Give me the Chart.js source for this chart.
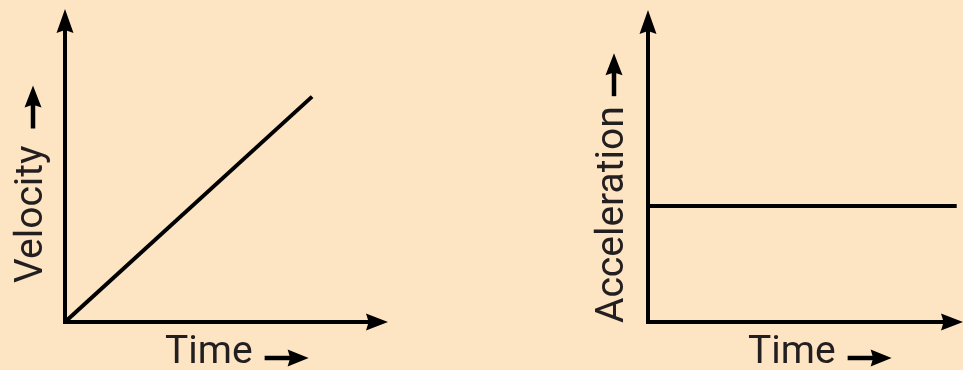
<!DOCTYPE html>
<html>
<head>
<meta charset="utf-8">
<script src="https://cdn.jsdelivr.net/npm/chart.js@4.4.1/dist/chart.umd.min.js"></script>
<style>
  html, body { margin: 0; padding: 0; background: #fde5c4; }
  body { width: 963px; height: 370px; position: relative; overflow: hidden; }
  .panel { position: absolute; top: 0; height: 370px; }
  #left-panel { left: 0; width: 480px; }
  #right-panel { left: 480px; width: 483px; }
</style>
</head>
<body>
<div class="panel" id="left-panel"><canvas id="velocityChart"></canvas></div>
<div class="panel" id="right-panel"><canvas id="accelChart"></canvas></div>
<script>
// Axis range (arbitrary units, arrow tip = 10)
const axisMin = 0;
const axisMax = 10;

// Velocity vs time: straight line through origin
const velocityTime = [0, 7.65];
const velocityValues = [0, 7.2];

// Acceleration vs time: constant
const accelTime = [0, 9.8];
const accelValues = [3.72, 3.72];

const xTitle = 'Time';
const velocityTitle = 'Velocity';
const accelTitle = 'Acceleration';

const inkColor = '#000000';
const textColor = '#231f20';
const labelFont = '39px Roboto';

function drawArrowHead(ctx, x, y, dir, len, half) {
  // dir: 'up' or 'right'
  ctx.beginPath();
  if (dir === 'up') {
    ctx.moveTo(x, y);
    ctx.lineTo(x - half, y + len);
    ctx.lineTo(x, y + len * 0.88);
    ctx.lineTo(x + half, y + len);
  } else {
    ctx.moveTo(x, y);
    ctx.lineTo(x - len, y - half);
    ctx.lineTo(x - len * 0.88, y);
    ctx.lineTo(x - len, y + half);
  }
  ctx.closePath();
  ctx.fill();
}

// draws axes with arrowheads plus the axis labels
const arrowAxes = {
  id: 'arrowAxes',
  afterDatasetsDraw(chart, args, opts) {
    const { ctx, chartArea: a } = chart;
    ctx.save();
    ctx.strokeStyle = inkColor;
    ctx.fillStyle = inkColor;
    ctx.lineWidth = 4;
    ctx.lineCap = 'butt';

    // y axis
    ctx.beginPath();
    ctx.moveTo(a.left, a.bottom + 2);
    ctx.lineTo(a.left, a.top + 18);
    ctx.stroke();
    drawArrowHead(ctx, a.left, a.top, 'up', 24, 8.5);

    // x axis
    ctx.beginPath();
    ctx.moveTo(a.left - 2, a.bottom);
    ctx.lineTo(a.right - 16, a.bottom);
    ctx.stroke();
    drawArrowHead(ctx, a.right, a.bottom, 'right', 22, 8.5);

    // x label + arrow
    ctx.font = labelFont;
    ctx.fillStyle = textColor;
    ctx.textBaseline = 'alphabetic';
    ctx.textAlign = 'left';
    const tx = a.left + 100;
    const ty = a.bottom + 41;
    ctx.fillText(xTitle, tx, ty);
    const tw = ctx.measureText(xTitle).width;
    ctx.fillStyle = inkColor;
    ctx.lineWidth = 4.5;
    const ax0 = tx + tw + 12;
    const ax1 = ax0 + 44;
    ctx.beginPath();
    ctx.moveTo(ax0, ty - 5);
    ctx.lineTo(ax1 - 16, ty - 5);
    ctx.stroke();
    drawArrowHead(ctx, ax1, ty - 5, 'right', 21, 8.5);

    // y label + arrow (rotated)
    ctx.save();
    ctx.translate(a.left - opts.yBase, a.bottom - opts.yStart);
    ctx.rotate(-Math.PI / 2);
    ctx.fillStyle = textColor;
    ctx.fillText(opts.yTitle, 0, 0);
    const yw = ctx.measureText(opts.yTitle).width;
    ctx.restore();

    const yx = a.left - opts.yBase - 9;
    const y0 = a.bottom - opts.yStart - yw - opts.yGap;
    const y1 = y0 - 43;
    ctx.fillStyle = inkColor;
    ctx.beginPath();
    ctx.moveTo(yx, y0);
    ctx.lineTo(yx, y1 + 16);
    ctx.stroke();
    drawArrowHead(ctx, yx, y1, 'up', 22, 8.5);

    ctx.restore();
  }
};

function makeChart(canvasId, times, values, padding, yOpts) {
  const ctx = document.getElementById(canvasId).getContext('2d');
  return new Chart(ctx, {
    type: 'line',
    data: {
      datasets: [{
        data: times.map((t, i) => ({ x: t, y: values[i] })),
        borderColor: inkColor,
        borderWidth: 4,
        pointRadius: 0,
        fill: false,
        tension: 0
      }]
    },
    options: {
      responsive: true,
      maintainAspectRatio: false,
      animation: false,
      layout: { padding },
      plugins: {
        legend: { display: false },
        tooltip: { enabled: false },
        arrowAxes: yOpts
      },
      scales: {
        x: { type: 'linear', min: axisMin, max: axisMax, display: false },
        y: { type: 'linear', min: axisMin, max: axisMax, display: false }
      }
    },
    plugins: [arrowAxes]
  });
}

makeChart('velocityChart', velocityTime, velocityValues,
  { left: 65, top: 9, right: 92, bottom: 48 },
  { yTitle: velocityTitle, yBase: 23, yStart: 39, yGap: 17 });

makeChart('accelChart', accelTime, accelValues,
  { left: 168, top: 10, right: 0, bottom: 48 },
  { yTitle: accelTitle, yBase: 25, yStart: -1, yGap: 10 });
</script>
</body>
</html>
